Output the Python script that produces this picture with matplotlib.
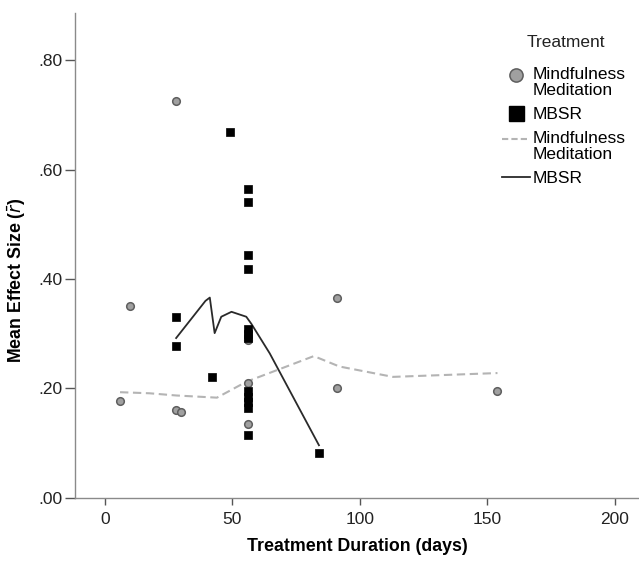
import matplotlib
matplotlib.use("Agg")
import matplotlib.pyplot as plt
import numpy as np
from matplotlib.lines import Line2D

plt.rcParams["font.family"] = ["Liberation Sans", "DejaVu Sans"]

# Mindfulness Meditation studies (circles)
mm_days = [6, 10, 28, 28, 30, 56, 56, 56, 91, 91, 154]
mm_r = [0.177, 0.351, 0.725, 0.160, 0.157, 0.288, 0.209, 0.135, 0.366, 0.201, 0.196]

# MBSR studies (squares)
mbsr_days = [28, 28, 42, 49, 56, 56, 56, 56, 56, 56, 56, 56, 56, 56, 56, 56, 84]
mbsr_r = [0.330, 0.278, 0.220, 0.669, 0.565, 0.540, 0.443, 0.419, 0.308, 0.300,
          0.293, 0.195, 0.185, 0.175, 0.165, 0.115, 0.081]

# fit lines per subgroup
mm_fit_days = [6, 17.6, 28, 44, 55.5, 82, 92, 113, 154]
mm_fit_r = [0.193, 0.191, 0.187, 0.183, 0.212, 0.259, 0.240, 0.221, 0.228]
mbsr_fit_days = [28, 34.6, 39.5, 41.2, 43.1, 45.7, 49.7, 55.5, 57.5, 64.7, 84]
mbsr_fit_r = [0.292, 0.331, 0.360, 0.366, 0.301, 0.331, 0.340, 0.331, 0.318, 0.264, 0.096]

x_ticks = [0, 50, 100, 150, 200]
y_ticks = [0.0, 0.2, 0.4, 0.6, 0.8]
y_tick_labels = [".00", ".20", ".40", ".60", ".80"]

fig = plt.figure(figsize=(6.39, 5.64), dpi=100)
ax = fig.add_axes([0.118, 0.1175, 0.882, 0.86])

circle_face, circle_edge = "#a0a0a0", "#5e5e5e"
dash_col = "#b4b4b4"

ax.plot(mm_fit_days, mm_fit_r, color=dash_col, lw=1.5, dashes=(4, 2.2), zorder=2)
ax.plot(mbsr_fit_days, mbsr_fit_r, color="#2a2a2a", lw=1.3, zorder=2)
ax.scatter(mm_days, mm_r, s=30, marker="o", facecolor=circle_face,
           edgecolor=circle_edge, linewidth=1.1, zorder=3)
ax.scatter(mbsr_days, mbsr_r, s=40, marker="s", facecolor="black",
           edgecolor="black", linewidth=0.5, zorder=4)

ax.set_xlim(-11.5, 209.5)
ax.set_ylim(0, 0.887)
ax.set_xticks(x_ticks)
ax.set_yticks(y_ticks)
ax.set_yticklabels(y_tick_labels)
for side in ("top", "right"):
    ax.spines[side].set_visible(False)
for side in ("left", "bottom"):
    ax.spines[side].set_color("#8a8a8a")
    ax.spines[side].set_linewidth(1.0)
ax.tick_params(axis="both", direction="out", width=1.0, color="#555555",
               labelsize=12.5, labelcolor="#222222")
ax.tick_params(axis="x", length=5, pad=5.5)
ax.tick_params(axis="y", length=7, pad=2.4)

ax.set_xlabel("Treatment Duration (days)", fontsize=12.8, fontweight="bold", labelpad=8)
ax.set_ylabel(r"Mean Effect Size ($\bar{r}$)", fontsize=12.8, fontweight="bold")
ax.yaxis.set_label_coords(-0.084, 0.449)

handles = [
    Line2D([], [], ls="none", marker="o", ms=9.5, mfc=circle_face, mec=circle_edge, mew=1.1),
    Line2D([], [], ls="none", marker="s", ms=10.8, mfc="black", mec="black"),
    Line2D([], [], color=dash_col, lw=1.5, dashes=(3, 1.5)),
    Line2D([], [], color="#2a2a2a", lw=1.3),
]
labels = ["Mindfulness\nMeditation", "MBSR", "Mindfulness\nMeditation", "MBSR"]
leg = ax.legend(handles, labels, loc="upper left", bbox_to_anchor=(0.757, 0.888),
                frameon=False, fontsize=12.5, handlelength=1.6, handletextpad=0.17,
                labelspacing=0.5, borderaxespad=0, borderpad=0)
for t in leg.get_texts():
    t.set_linespacing(1.12)
# two-line entries: put the key beside the first line, as in the source
for i in (0, 2):
    h = leg.legend_handles[i]
    h.set_ydata(np.asarray(h.get_ydata(), dtype=float) + 5.8)
ax.text(0.801, 0.929, "Treatment", transform=ax.transAxes, fontsize=12.5,
        va="baseline", ha="left", color="#222222")

fig.savefig("out.png", dpi=100)
